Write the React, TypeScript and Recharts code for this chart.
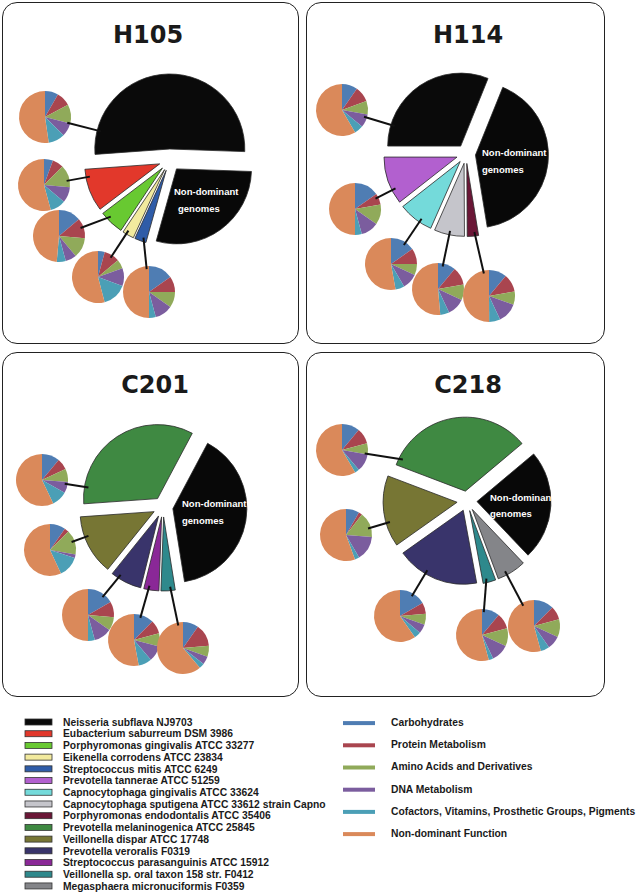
import React from "react";
import { PieChart, Pie, Cell } from "recharts";

// ---------------------------------------------------------------------------
// Legend entries + colours
// ---------------------------------------------------------------------------

const GENOMES = [
  "Neisseria subflava NJ9703",
  "Eubacterium saburreum DSM 3986",
  "Porphyromonas gingivalis ATCC 33277",
  "Eikenella corrodens ATCC 23834",
  "Streptococcus mitis ATCC 6249",
  "Prevotella tannerae ATCC 51259",
  "Capnocytophaga gingivalis ATCC 33624",
  "Capnocytophaga sputigena ATCC 33612 strain Capno",
  "Porphyromonas endodontalis ATCC 35406",
  "Prevotella melaninogenica ATCC 25845",
  "Veillonella dispar ATCC 17748",
  "Prevotella veroralis F0319",
  "Streptococcus parasanguinis ATCC 15912",
  "Veillonella sp. oral taxon 158 str. F0412",
  "Megasphaera micronuciformis F0359",
];

const GENOME_COLORS = [
  "#0a0a0a",
  "#e2382b",
  "#68c931",
  "#f2ea9e",
  "#2f5ca8",
  "#b260cf",
  "#74dada",
  "#c5c5cb",
  "#6a1636",
  "#3f8942",
  "#777634",
  "#39346b",
  "#8a2897",
  "#2e898c",
  "#848589",
];

const FUNCTIONS = [
  "Carbohydrates",
  "Protein Metabolism",
  "Amino Acids and Derivatives",
  "DNA Metabolism",
  "Cofactors, Vitamins, Prosthetic Groups, Pigments",
  "Non-dominant Function",
];

const FUNCTION_COLORS = ["#4f7db3", "#a9454f", "#90aa5a", "#7b5d9e", "#4b9fb6", "#da895a"];

const NON_DOMINANT = "Non-dominant genomes";
const NON_DOMINANT_COLOR = "#080808";

// ---------------------------------------------------------------------------
// Samples: dominant genomes (pie order), share of each in %, last = non-dominant,
// and the functional profile (%) of every dominant genome
// ---------------------------------------------------------------------------

const H105_GENOMES = [GENOMES[0], GENOMES[1], GENOMES[2], GENOMES[3], GENOMES[4]];
const H105_SHARES = [51.7, 9.2, 5.3, 2.5, 2.5, 28.8];
const H105_FUNCTIONS = [
  [8.3, 8.9, 11.9, 8.3, 10.3, 52.3],
  [5.6, 6.9, 13.9, 9.7, 9.7, 54.2],
  [13.9, 12.5, 12.5, 6.9, 5.6, 48.6],
  [4.2, 9.7, 5.6, 11.1, 15.3, 54.1],
  [15.3, 9.7, 9.7, 11.1, 4.2, 50.0],
];

const H114_GENOMES = [GENOMES[0], GENOMES[5], GENOMES[6], GENOMES[7], GENOMES[8]];
const H114_SHARES = [31.1, 10.6, 7.8, 6.7, 2.5, 41.3];
const H114_FUNCTIONS = [
  [9.7, 9.7, 8.3, 8.3, 5.6, 58.4],
  [15.3, 6.9, 12.5, 11.1, 4.2, 50.0],
  [15.3, 9.7, 6.9, 9.7, 5.6, 52.8],
  [11.1, 11.1, 9.7, 11.1, 5.6, 51.4],
  [11.1, 11.1, 8.3, 12.5, 6.9, 50.1],
];

const C201_GENOMES = [GENOMES[9], GENOMES[10], GENOMES[11], GENOMES[12], GENOMES[13]];
const C201_SHARES = [33.9, 13.1, 6.9, 3.3, 3.1, 39.7];
const C201_FUNCTIONS = [
  [11.1, 6.9, 8.3, 6.9, 9.7, 57.1],
  [9.7, 2.8, 15.3, 2.2, 13.1, 56.9],
  [16.7, 9.7, 8.3, 11.1, 4.2, 50.0],
  [12.5, 8.3, 8.3, 9.7, 8.3, 52.9],
  [9.7, 13.9, 6.9, 5.0, 3.3, 61.2],
];

const C218_GENOMES = [GENOMES[9], GENOMES[10], GENOMES[11], GENOMES[13], GENOMES[14]];
const C218_SHARES = [33.1, 15.6, 18.1, 2.8, 6.4, 24.0];
const C218_FUNCTIONS = [
  [11.1, 9.7, 6.9, 11.1, 2.8, 58.4],
  [8.3, 2.2, 15.8, 15.3, 2.8, 55.6],
  [16.7, 6.9, 6.9, 5.6, 4.2, 59.7],
  [11.1, 9.7, 11.1, 11.1, 2.8, 54.2],
  [12.5, 8.3, 11.1, 8.3, 5.6, 54.2],
];

// ---------------------------------------------------------------------------
// Layout (page coordinates)
// ---------------------------------------------------------------------------

const PANELS = [
  {
    sample: "H105", genomes: H105_GENOMES, shares: H105_SHARES, functions: H105_FUNCTIONS,
    box: [2, 2, 297, 342], title: [148, 43.3], center: [170, 160], radius: 75, explode: 11, start: -2,
    label: [[174, 194.5], [178, 212]],
    minis: [[45, 117], [44, 185], [59, 236], [98, 277], [149, 292]],
  },
  {
    sample: "H114", genomes: H114_GENOMES, shares: H114_SHARES, functions: H114_FUNCTIONS,
    box: [306, 2, 299, 342], title: [468, 42.7], center: [466, 154], radius: 73, explode: 9.5, start: 68,
    label: [[482, 155.5], [482, 172.5]],
    minis: [[342, 110], [355, 209], [391, 264], [438, 289], [489, 296]],
  },
  {
    sample: "C201", genomes: C201_GENOMES, shares: C201_SHARES, functions: C201_FUNCTIONS,
    box: [2, 352, 297, 345], title: [155, 392.7], center: [163, 507], radius: 74, explode: 10, start: 62,
    label: [[182, 506.5], [182, 523.5]],
    minis: [[42, 480], [50, 550], [88, 615], [134, 640], [183, 648]],
  },
  {
    sample: "C218", genomes: C218_GENOMES, shares: C218_SHARES, functions: C218_FUNCTIONS,
    box: [306, 352, 299, 345], title: [468, 392.7], center: [467, 501], radius: 74, explode: 10, start: 40,
    label: [[490, 500.5], [490, 517]],
    minis: [[342, 450], [346, 535], [400, 616], [482, 635], [534, 626]],
  },
];

const MINI_RADIUS = 26;

const cosd = (a: number) => Math.cos((a * Math.PI) / 180);
const sind = (a: number) => Math.sin((a * Math.PI) / 180);

// ---------------------------------------------------------------------------
// Overlay: title, connector lines, "Non-dominant genomes" label
// ---------------------------------------------------------------------------

function Overlay({ panel, arcs, minis }: any) {
  const [bx, by, bw, bh] = panel.box;
  const R = panel.radius;
  const lines = minis.map(([mx, my]: number[], i: number) => {
    const a = arcs[i];
    const span = a.a1 - a.a0;
    const m = Math.min(6, span / 3);
    const dirAng = (Math.atan2(-(my - a.oy), mx - a.ox) * 180) / Math.PI;
    let rel = (((dirAng - a.a0) % 360) + 360) % 360;
    if (rel > span) rel = rel > span + (360 - span) / 2 ? m : span - m;
    rel = Math.max(m, Math.min(span - m, rel));
    const ang = a.a0 + rel;
    const ex = a.ox + (R - 4) * cosd(ang);
    const ey = a.oy - (R - 4) * sind(ang);
    const d = Math.hypot(ex - mx, ey - my);
    const sx = mx + ((ex - mx) / d) * (MINI_RADIUS - 3);
    const sy = my + ((ey - my) / d) * (MINI_RADIUS - 3);
    return <line key={i} x1={sx} y1={sy} x2={ex} y2={ey} stroke="#111" strokeWidth={2} />;
  });
  return (
    <svg
      width={bw}
      height={bh}
      style={{ position: "absolute", left: 0, top: 0, pointerEvents: "none" }}
    >
      <text
        x={panel.title[0] - bx}
        y={panel.title[1] - by}
        textAnchor="middle"
        fontFamily="'DejaVu Sans', sans-serif"
        fontWeight="bold"
        fontSize={24}
        fill="#1a1a1a"
      >
        {panel.sample}
      </text>
      {lines}
      {["Non-dominant", "genomes"].map((t, i) => (
        <text
          key={t}
          x={panel.label[i][0] - bx}
          y={panel.label[i][1] - by}
          fontFamily="'Liberation Sans', Arial, sans-serif"
          fontWeight="bold"
          fontSize={9.5}
          fill="#ffffff"
        >
          {t}
        </text>
      ))}
    </svg>
  );
}

// ---------------------------------------------------------------------------
// One sample panel
// ---------------------------------------------------------------------------

function Panel({ panel }: any) {
  const [bx, by, bw, bh] = panel.box;
  const cx = panel.center[0] - bx;
  const cy = panel.center[1] - by;

  const rows = panel.shares.map((value: number, i: number) => {
    const isDominant = i < panel.genomes.length;
    const name = isDominant ? panel.genomes[i] : NON_DOMINANT;
    const color = isDominant ? GENOME_COLORS[GENOMES.indexOf(name)] : NON_DOMINANT_COLOR;
    return { name, value, color };
  });
  const total = rows.reduce((s: number, r: any) => s + r.value, 0);

  let acc = 0;
  const arcs = rows.map((r: any) => {
    const a0 = panel.start + (360 * acc) / total;
    acc += r.value;
    const a1 = panel.start + (360 * acc) / total;
    const mid = (a0 + a1) / 2;
    return { a0, a1, ox: cx + panel.explode * cosd(mid), oy: cy - panel.explode * sind(mid) };
  });

  const minis = panel.minis.map(([x, y]: number[]) => [x - bx, y - by]);

  return (
    <div style={{ position: "absolute", left: bx, top: by, width: bw, height: bh }}>
      <div
        style={{
          position: "absolute",
          inset: 0,
          border: "1.6px solid #222",
          borderRadius: 15,
          boxSizing: "border-box",
        }}
      />
      <div style={{ position: "absolute", left: 0, top: 0 }}>
        <PieChart width={bw} height={bh} margin={{ top: 0, right: 0, bottom: 0, left: 0 }}>
          {/* exploded big pie: one Pie per slice, shifted along the slice's mid angle */}
          {rows.map((_: any, k: number) => (
            <Pie
              key={`big-${k}`}
              data={rows}
              dataKey="value"
              nameKey="name"
              cx={arcs[k].ox}
              cy={arcs[k].oy}
              outerRadius={panel.radius}
              startAngle={panel.start}
              endAngle={panel.start + 360}
              isAnimationActive={false}
              stroke="none"
            >
              {rows.map((r: any, j: number) => (
                <Cell
                  key={j}
                  fill={j === k ? r.color : "transparent"}
                  stroke={j === k ? "#2a2a2a" : "none"}
                  strokeWidth={0.8}
                />
              ))}
            </Pie>
          ))}
          {/* functional profile of each dominant genome */}
          {panel.functions.map((vals: number[], m: number) => (
            <Pie
              key={`mini-${m}`}
              data={vals.map((v, i) => ({ name: FUNCTIONS[i], value: v }))}
              dataKey="value"
              nameKey="name"
              cx={minis[m][0]}
              cy={minis[m][1]}
              outerRadius={MINI_RADIUS}
              startAngle={90}
              endAngle={-270}
              isAnimationActive={false}
              stroke="none"
            >
              {vals.map((_, i) => (
                <Cell key={i} fill={FUNCTION_COLORS[i]} stroke="none" />
              ))}
            </Pie>
          ))}
        </PieChart>
      </div>
      <Overlay panel={panel} arcs={arcs} minis={minis} />
    </div>
  );
}

// ---------------------------------------------------------------------------
// Legend
// ---------------------------------------------------------------------------

function Legend() {
  const font = "'Liberation Sans', Arial, sans-serif";
  return (
    <svg width={638} height={195} style={{ position: "absolute", left: 0, top: 700 }}>
      {GENOMES.map((g, i) => {
        const y = 22 + i * 11.71;
        return (
          <g key={g}>
            <rect x={25} y={y - 3} width={27} height={6} fill={GENOME_COLORS[i]} stroke="#333" strokeWidth={0.8} />
            <text x={63} y={y + 3.7} fontFamily={font} fontWeight="bold" fontSize={10.3} fill="#1a1a1a">
              {g}
            </text>
          </g>
        );
      })}
      {FUNCTIONS.map((f, i) => {
        const y = 22.3 + i * 22.2;
        return (
          <g key={f}>
            <rect x={343} y={y - 1.2} width={32} height={4} fill={FUNCTION_COLORS[i]} />
            <text x={391} y={y + 3.7} fontFamily={font} fontWeight="bold" fontSize={10.3} fill="#1a1a1a">
              {f}
            </text>
          </g>
        );
      })}
    </svg>
  );
}

export default function App() {
  return (
    <div style={{ position: "absolute", left: 0, top: 0, width: 638, height: 895, background: "#fff" }}>
      {PANELS.map((p) => (
        <Panel key={p.sample} panel={p} />
      ))}
      <Legend />
    </div>
  );
}
